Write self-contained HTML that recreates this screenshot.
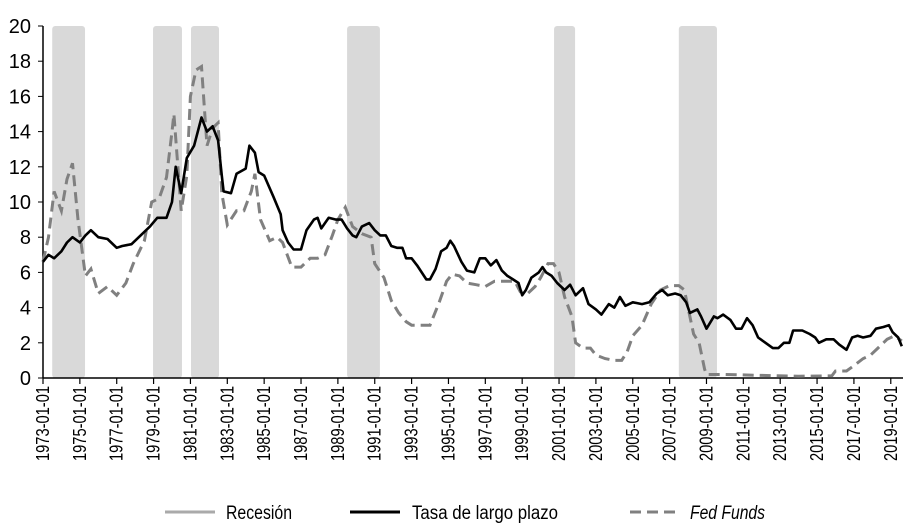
<!DOCTYPE html>
<html><head><meta charset="utf-8"><style>
body{margin:0;background:#fff;}
svg{display:block;font-family:"Liberation Sans",sans-serif;}
</style></head><body>
<svg id="chart" width="907" height="526" viewBox="0 0 907 526" xmlns="http://www.w3.org/2000/svg">
<g id="bands"></g><g id="axes"></g><g id="series"></g>
<g>
 <g>
  <line x1="165" y1="512" x2="215" y2="512" stroke="#aaa" stroke-width="3"/>
  <text x="226" y="519" font-size="19" textLength="66" lengthAdjust="spacingAndGlyphs">Recesión</text></g>
 <g>
  <line x1="350" y1="512" x2="400" y2="512" stroke="#000" stroke-width="3"/>
  <text x="412" y="519" font-size="19" textLength="146" lengthAdjust="spacingAndGlyphs">Tasa de largo plazo</text></g>
 <g>
  <line x1="630" y1="512" x2="680" y2="512" stroke="#808080" stroke-width="3" stroke-dasharray="11,6"/>
  <text x="690" y="519" font-size="19" font-style="italic" textLength="75" lengthAdjust="spacingAndGlyphs">Fed Funds</text></g>
</g>
</svg>
<script>
const recessions=[[1973.5,1975.28],[1978.97,1980.54],[1981.03,1982.55],[1989.5,1991.28],[2000.73,2001.87],[2007.5,2009.57]];
const yTicks=[0,2,4,6,8,10,12,14,16,18,20];
const xTickYears=[1973,1975,1977,1979,1981,1983,1985,1987,1989,1991,1993,1995,1997,1999,2001,2003,2005,2007,2009,2011,2013,2015,2017,2019];
const longYears=[1973.0,1973.3,1973.6,1974.0,1974.3,1974.6,1975.0,1975.3,1975.6,1976.0,1976.5,1977.0,1977.3,1977.8,1978.2,1978.8,1979.2,1979.7,1980.0,1980.2,1980.5,1980.8,1981.2,1981.6,1981.9,1982.2,1982.5,1982.7,1982.8,1983.2,1983.5,1984.0,1984.2,1984.5,1984.7,1985.0,1985.5,1985.9,1986.0,1986.3,1986.6,1987.0,1987.3,1987.7,1987.9,1988.1,1988.5,1988.9,1989.2,1989.5,1989.8,1990.0,1990.3,1990.7,1991.0,1991.3,1991.6,1991.9,1992.2,1992.5,1992.7,1993.0,1993.3,1993.8,1994.0,1994.3,1994.6,1994.9,1995.1,1995.3,1995.7,1996.0,1996.4,1996.7,1997.0,1997.3,1997.6,1997.9,1998.2,1998.5,1998.8,1999.0,1999.2,1999.5,1999.9,2000.1,2000.3,2000.6,2000.9,2001.3,2001.6,2001.9,2002.3,2002.6,2003.0,2003.3,2003.7,2004.0,2004.3,2004.6,2005.0,2005.5,2005.9,2006.3,2006.6,2006.9,2007.3,2007.6,2007.9,2008.1,2008.5,2008.7,2009.0,2009.4,2009.6,2009.9,2010.3,2010.6,2010.9,2011.2,2011.5,2011.8,2012.2,2012.6,2012.9,2013.2,2013.5,2013.7,2014.2,2014.6,2014.9,2015.1,2015.5,2015.9,2016.2,2016.6,2016.9,2017.2,2017.5,2017.9,2018.2,2018.6,2018.9,2019.1,2019.4,2019.6];
const longRate=[6.6,7.0,6.8,7.2,7.7,8.0,7.7,8.1,8.4,8.0,7.9,7.4,7.5,7.6,8.0,8.6,9.1,9.1,10.0,12.0,10.5,12.5,13.2,14.8,14.0,14.3,13.5,11.5,10.6,10.5,11.6,11.9,13.2,12.8,11.7,11.5,10.3,9.3,8.4,7.7,7.3,7.3,8.4,9.0,9.1,8.5,9.1,9.0,9.0,8.5,8.1,8.0,8.6,8.8,8.4,8.1,8.1,7.5,7.4,7.4,6.8,6.8,6.4,5.6,5.6,6.2,7.2,7.4,7.8,7.5,6.6,6.1,6.0,6.8,6.8,6.4,6.7,6.1,5.8,5.6,5.4,4.7,5.0,5.7,6.0,6.3,6.0,5.8,5.4,5.0,5.3,4.7,5.1,4.2,3.9,3.6,4.2,4.0,4.6,4.1,4.3,4.2,4.3,4.8,5.0,4.7,4.8,4.7,4.3,3.7,3.9,3.5,2.8,3.5,3.4,3.6,3.3,2.8,2.8,3.4,3.0,2.3,2.0,1.7,1.7,2.0,2.0,2.7,2.7,2.5,2.3,2.0,2.2,2.2,1.9,1.6,2.3,2.4,2.3,2.4,2.8,2.9,3.0,2.6,2.3,1.8];
const fedYears=[1973.0,1973.3,1973.6,1974.0,1974.3,1974.6,1974.9,1975.3,1975.6,1976.0,1976.5,1977.0,1977.5,1977.9,1978.5,1978.9,1979.3,1979.7,1980.0,1980.1,1980.5,1980.8,1981.0,1981.3,1981.6,1981.9,1982.2,1982.5,1982.7,1983.0,1983.5,1983.9,1984.3,1984.5,1984.8,1985.3,1985.7,1986.0,1986.5,1987.0,1987.5,1987.9,1988.3,1988.7,1989.0,1989.4,1989.8,1990.3,1990.8,1991.0,1991.5,1991.9,1992.3,1992.7,1993.0,1993.5,1994.0,1994.5,1994.9,1995.2,1995.6,1996.0,1996.5,1997.0,1997.5,1998.0,1998.6,1998.9,1999.3,1999.7,2000.0,2000.4,2000.7,2001.0,2001.3,2001.7,2001.9,2002.3,2002.7,2003.0,2003.5,2004.0,2004.4,2004.7,2005.0,2005.5,2006.0,2006.5,2007.0,2007.5,2007.8,2008.0,2008.3,2008.6,2008.9,2009.0,2010.0,2012.0,2014.0,2015.8,2016.0,2016.6,2017.0,2017.5,2017.9,2018.3,2018.8,2019.2,2019.6];
const fedFunds=[6.6,8.0,10.6,9.5,11.3,12.2,9.0,5.8,6.2,4.8,5.2,4.7,5.4,6.5,7.8,10.0,10.2,11.4,14.0,15.0,9.5,11.5,16.0,17.5,17.7,13.2,14.2,14.5,10.5,8.7,9.5,9.5,10.6,11.6,9.0,7.8,8.0,7.7,6.3,6.3,6.8,6.8,7.0,8.1,9.0,9.7,8.6,8.2,8.0,6.5,5.7,4.4,3.7,3.2,3.0,3.0,3.0,4.3,5.5,5.9,5.8,5.4,5.3,5.2,5.5,5.5,5.5,4.9,4.8,5.2,5.7,6.5,6.5,6.0,4.6,3.5,2.0,1.7,1.7,1.3,1.1,1.0,1.0,1.5,2.4,3.0,4.2,5.0,5.25,5.25,5.0,4.0,2.5,2.0,0.5,0.2,0.2,0.15,0.1,0.12,0.4,0.4,0.7,1.1,1.3,1.7,2.2,2.4,2.1];

const NS='http://www.w3.org/2000/svg';
const X0=43,PXY=18.43,Y0=378,PXV=17.6,XEND=903;
const xs=t=>X0+(t-1973)*PXY;
const ys=v=>Y0-v*PXV;
function mk(tag,attrs,parent){const e=document.createElementNS(NS,tag);for(const k in attrs)e.setAttribute(k,attrs[k]);parent.appendChild(e);return e;}
const bands=document.getElementById('bands'),axes=document.getElementById('axes'),series=document.getElementById('series');
recessions.forEach(r=>{
 const e=mk('rect',{x:xs(r[0]),y:ys(20),width:xs(r[1])-xs(r[0]),height:ys(0)-ys(20),fill:'#d9d9d9',rx:3},bands);
 
 
});
let a=mk('line',{x1:X0,y1:ys(20),x2:X0,y2:Y0,stroke:'#000','stroke-width':1.5},axes);


a=mk('line',{x1:X0,y1:Y0,x2:XEND,y2:Y0,stroke:'#000','stroke-width':1.5},axes);


yTicks.forEach(v=>{
 mk('line',{x1:X0-5,y1:ys(v),x2:X0,y2:ys(v),stroke:'#000','stroke-width':1},axes);
 const t=mk('text',{x:31,y:ys(v)+7,'font-size':20,'text-anchor':'end'},axes);
 t.textContent=String(v);
 
 
});
xTickYears.forEach(yr=>{
 const x=xs(yr);
 mk('line',{x1:x,y1:Y0,x2:x,y2:Y0+6,stroke:'#000','stroke-width':1.2},axes);
 const t=mk('text',{x:0,y:0,'font-size':18,'text-anchor':'end',transform:`translate(${x+6},386) rotate(-90)`,textLength:75,lengthAdjust:'spacingAndGlyphs'},axes);
 t.textContent=yr+'-01-01';
 
 
});
function path(xv,yv,attrs,name){
 const d=xv.map((t,i)=>(i?'L':'M')+xs(t).toFixed(1)+','+ys(yv[i]).toFixed(1)).join('');
 const p=mk('path',Object.assign({d:d,fill:'none'},attrs),series);
 
 
}
path(fedYears,fedFunds,{stroke:'#808080','stroke-width':3,'stroke-dasharray':'11,6'},'fed-funds-line');
path(longYears,longRate,{stroke:'#000','stroke-width':2.6,'stroke-linejoin':'round'},'long-rate-line');
</script>
</body></html>
